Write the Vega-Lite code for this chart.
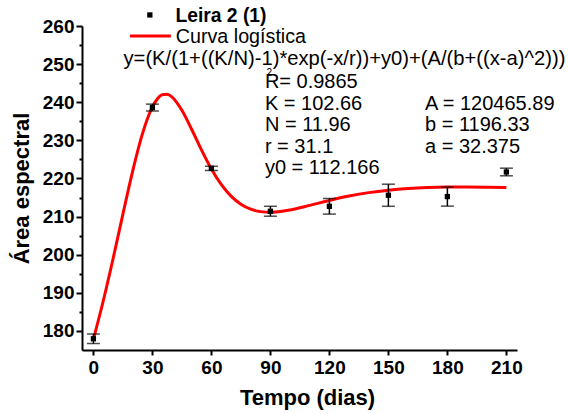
{
  "$schema": "https://vega.github.io/schema/vega-lite/v6.json",
  "width": 435,
  "height": 324,
  "autosize": {"type": "none"},
  "padding": {"left": 82, "top": 26, "right": 51, "bottom": 64},
  "background": "white",
  "config": {
    "view": {"stroke": null},
    "font": "Liberation Sans",
    "axis": {
      "grid": false,
      "domainColor": "black",
      "domainWidth": 2,
      "tickColor": "black",
      "tickWidth": 2,
      "labelFont": "Liberation Sans",
      "labelFontWeight": "bold",
      "labelFontSize": 19,
      "labelColor": "black",
      "labelOverlap": false,
      "titleFont": "Liberation Sans",
      "titleFontWeight": "bold",
      "titleFontSize": 22,
      "titleColor": "black"
    }
  },
  "datasets": {
    "medias": [
      {"dias": 0, "area": 177.95, "erro": 1.25},
      {"dias": 30, "area": 238.6, "erro": 0.9},
      {"dias": 60, "area": 222.65, "erro": 0.55},
      {"dias": 90, "area": 211.4, "erro": 1.3},
      {"dias": 120, "area": 212.7, "erro": 2.05},
      {"dias": 150, "area": 215.6, "erro": 2.9},
      {"dias": 180, "area": 215.25, "erro": 2.5},
      {"dias": 210, "area": 221.7, "erro": 1.0}
    ],
    "curva": [
      {"dias": 0, "area": 177.80},
      {"dias": 5, "area": 187.85},
      {"dias": 10, "area": 198.95},
      {"dias": 15, "area": 210.64},
      {"dias": 20, "area": 222.02},
      {"dias": 25, "area": 231.84},
      {"dias": 30, "area": 238.78},
      {"dias": 32.5, "area": 240.85},
      {"dias": 35, "area": 241.95},
      {"dias": 37.5, "area": 242.08},
      {"dias": 40, "area": 241.36},
      {"dias": 45, "area": 237.89},
      {"dias": 50, "area": 232.85},
      {"dias": 55, "area": 227.44},
      {"dias": 60, "area": 222.49},
      {"dias": 65, "area": 218.42},
      {"dias": 70, "area": 215.36},
      {"dias": 75, "area": 213.25},
      {"dias": 80, "area": 211.95},
      {"dias": 85, "area": 211.30},
      {"dias": 90, "area": 211.14},
      {"dias": 100, "area": 211.75},
      {"dias": 110, "area": 212.95},
      {"dias": 120, "area": 214.24},
      {"dias": 130, "area": 215.38},
      {"dias": 140, "area": 216.29},
      {"dias": 150, "area": 216.94},
      {"dias": 160, "area": 217.37},
      {"dias": 170, "area": 217.62},
      {"dias": 180, "area": 217.73},
      {"dias": 190, "area": 217.75},
      {"dias": 200, "area": 217.70},
      {"dias": 210, "area": 217.60}
    ],
    "um": [{}]
  },
  "resolve": {"scale": {"y": "independent"}, "axis": {"y": "independent"}},
  "layer": [
    {
      "layer": [
        {
          "data": {"name": "curva"},
          "mark": {"type": "line", "color": "#FF0000", "strokeWidth": 3, "interpolate": "monotone"},
          "encoding": {
            "x": {
              "field": "dias", "type": "quantitative", "title": "Tempo (dias)",
              "scale": {"domain": [-5.8, 215.4], "nice": false, "zero": false},
              "axis": {
                "values": [0, 30, 60, 90, 120, 150, 180, 210],
                "tickSize": 5,
                "labelPadding": 3,
                "titlePadding": 10,
                "titleX": 225
              }
            },
            "y": {
              "field": "area", "type": "quantitative", "title": "Área espectral",
              "scale": {"domain": [175, 260], "nice": false, "zero": false},
              "axis": {
                "orient": "left",
                "values": [180, 190, 200, 210, 220, 230, 240, 250, 260],
                "tickSize": 6,
                "labelPadding": 2,
                "titlePadding": 9
              }
            }
          }
        },
        {
          "data": {"name": "medias"},
          "mark": {"type": "errorbar", "color": "black", "thickness": 1.5, "ticks": {"size": 13, "thickness": 1.5, "color": "black"}},
          "encoding": {
            "x": {"field": "dias", "type": "quantitative", "title": "Tempo (dias)"},
            "y": {"field": "area", "type": "quantitative", "title": "Área espectral"},
            "yError": {"field": "erro"}
          }
        },
        {
          "data": {"name": "medias"},
          "mark": {"type": "point", "shape": "square", "filled": true, "size": 28, "color": "black", "opacity": 1},
          "encoding": {
            "x": {"field": "dias", "type": "quantitative", "title": "Tempo (dias)"},
            "y": {"field": "area", "type": "quantitative", "title": "Área espectral"}
          }
        },
        {
          "data": {"name": "um"},
          "mark": {"type": "point", "shape": "square", "filled": true, "size": 28, "color": "black", "opacity": 1},
          "encoding": {
            "x": {"datum": 28.7, "type": "quantitative", "title": "Tempo (dias)"},
            "y": {"datum": 262.9, "type": "quantitative", "title": "Área espectral"}
          }
        },
        {
          "data": {"name": "um"},
          "mark": {"type": "rule", "color": "#FF0000", "strokeWidth": 3},
          "encoding": {
            "x": {"datum": 18.6, "type": "quantitative", "title": "Tempo (dias)"},
            "x2": {"datum": 39.4},
            "y": {"datum": 257.4, "type": "quantitative", "title": "Área espectral"}
          }
        },
        {
          "data": {"name": "um"},
          "mark": {"type": "text", "text": "Leira 2 (1)", "align": "left", "baseline": "alphabetic", "font": "Liberation Sans", "fontWeight": "bold", "fontSize": 19.3, "color": "black"},
          "encoding": {
            "x": {"datum": 41.7, "type": "quantitative", "title": "Tempo (dias)"},
            "y": {"datum": 261.05, "type": "quantitative", "title": "Área espectral"}
          }
        },
        {
          "data": {"name": "um"},
          "mark": {"type": "text", "text": "Curva logística", "align": "left", "baseline": "alphabetic", "font": "Liberation Sans", "fontSize": 19.7, "color": "black"},
          "encoding": {
            "x": {"datum": 41.9, "type": "quantitative", "title": "Tempo (dias)"},
            "y": {"datum": 255.45, "type": "quantitative", "title": "Área espectral"}
          }
        },
        {
          "data": {"name": "um"},
          "mark": {"type": "text", "text": "y=(K/(1+((K/N)-1)*exp(-x/r))+y0)+(A/(b+((x-a)^2)))", "align": "left", "baseline": "alphabetic", "font": "Liberation Sans", "fontSize": 20.2, "color": "black"},
          "encoding": {
            "x": {"datum": 15.3, "type": "quantitative", "title": "Tempo (dias)"},
            "y": {"datum": 249.8, "type": "quantitative", "title": "Área espectral"}
          }
        },
        {
          "data": {"name": "um"},
          "mark": {"type": "text", "text": ["R= 0.9865", "K = 102.66", "N = 11.96", "r = 31.1", "y0 = 112.166"], "lineHeight": 21.4, "align": "left", "baseline": "alphabetic", "font": "Liberation Sans", "fontSize": 20, "color": "black"},
          "encoding": {
            "x": {"datum": 87.2, "type": "quantitative", "title": "Tempo (dias)"},
            "y": {"datum": 243.65, "type": "quantitative", "title": "Área espectral"}
          }
        },
        {
          "data": {"name": "um"},
          "mark": {"type": "text", "text": "2", "align": "left", "baseline": "alphabetic", "font": "Liberation Sans", "fontSize": 10, "color": "black"},
          "encoding": {
            "x": {"datum": 88.0, "type": "quantitative", "title": "Tempo (dias)"},
            "y": {"datum": 247.0, "type": "quantitative", "title": "Área espectral"}
          }
        },
        {
          "data": {"name": "um"},
          "mark": {"type": "text", "text": ["A = 120465.89", "b = 1196.33", "a = 32.375"], "lineHeight": 21.4, "align": "left", "baseline": "alphabetic", "font": "Liberation Sans", "fontSize": 20, "color": "black"},
          "encoding": {
            "x": {"datum": 168.6, "type": "quantitative", "title": "Tempo (dias)"},
            "y": {"datum": 238.0, "type": "quantitative", "title": "Área espectral"}
          }
        }
      ]
    },
    {
      "data": {"name": "um"},
      "mark": {"type": "point", "opacity": 0},
      "encoding": {
        "x": {"datum": 0, "type": "quantitative"},
        "y": {
          "datum": 200, "type": "quantitative",
          "scale": {"domain": [175, 260], "nice": false, "zero": false},
          "axis": {
            "orient": "left",
            "values": [185, 195, 205, 215, 225, 235, 245, 255],
            "labels": false,
            "domain": false,
            "tickSize": 3,
            "title": null
          }
        }
      }
    }
  ]
}
